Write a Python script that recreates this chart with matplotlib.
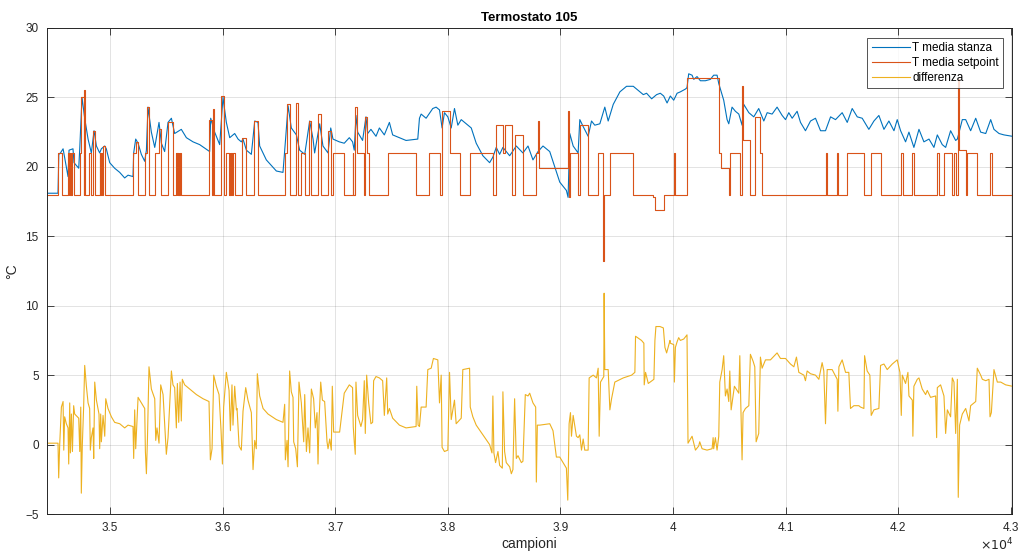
import matplotlib
matplotlib.use("Agg")
import matplotlib.pyplot as plt
from matplotlib.ticker import FuncFormatter

plt.rcParams['font.family'] = ['Liberation Sans', 'DejaVu Sans']

# T media stanza (room temperature)
stanza_x = [34443, 34538, 34545, 34560, 34583, 34627, 34636, 34671, 34680, 34722, 34731, 34751,
            34775, 34805, 34834, 34858, 34879, 34908, 34923, 34953, 34967, 34997, 35041, 35086,
            35130, 35160, 35204, 35210, 35228, 35249, 35278, 35308, 35323, 35337, 35367, 35397,
            35435, 35456, 35485, 35515, 35545, 35574, 35633, 35678, 35737, 35796, 35885, 35894,
            35929, 35974, 36003, 36033, 36063, 36107, 36137, 36166, 36181, 36211, 36255, 36285,
            36314, 36329, 36388, 36477, 36536, 36560, 36581, 36610, 36655, 36684, 36729, 36773,
            36803, 36817, 36862, 36891, 36936, 36960, 36980, 37036, 37080, 37125, 37154, 37169,
            37184, 37199, 37243, 37273, 37288, 37317, 37362, 37392, 37436, 37481, 37510, 37570,
            37629, 37733, 37748, 37763, 37807, 37866, 37896, 37926, 37949, 37970, 38000, 38030,
            38059, 38089, 38119, 38163, 38208, 38252, 38311, 38371, 38400, 38430, 38460, 38489,
            38549, 38608, 38667, 38712, 38756, 38801, 38845, 38905, 38949, 38994, 39053, 39068,
            39083, 39113, 39157, 39172, 39202, 39246, 39276, 39305, 39350, 39394, 39424, 39469,
            39528, 39587, 39647, 39691, 39736, 39765, 39810, 39854, 39887, 39917, 39947, 39976,
            40006, 40036, 40065, 40110, 40124, 40139, 40169, 40184, 40213, 40243, 40287, 40332,
            40361, 40391, 40406, 40421, 40450, 40480, 40495, 40524, 40554, 40584, 40613, 40628,
            40673, 40717, 40761, 40806, 40836, 40880, 40924, 40969, 40999, 41028, 41058, 41102,
            41132, 41176, 41221, 41265, 41310, 41354, 41399, 41443, 41502, 41547, 41591, 41636,
            41680, 41739, 41784, 41828, 41873, 41917, 41962, 41991, 42021, 42065, 42095, 42139,
            42184, 42228, 42273, 42317, 42347, 42391, 42421, 42465, 42510, 42525, 42569, 42599,
            42643, 42688, 42732, 42777, 42821, 42850, 42895, 42939, 43013]
stanza_y = [18.1, 18.1, 20.9, 21.0, 21.3, 19.3, 21.2, 21.3, 20.3, 19.9, 21.3, 25.0,
            23.5, 22.0, 21.0, 22.6, 21.5, 21.0, 21.3, 21.5, 21.3, 20.3, 19.9, 19.6,
            19.2, 19.4, 19.3, 21.0, 22.0, 21.7, 20.9, 20.4, 21.2, 24.3, 22.5, 21.4,
            23.2, 21.7, 21.1, 23.2, 23.5, 22.4, 22.7, 22.1, 21.8, 21.6, 21.1, 23.5,
            22.5, 21.6, 25.0, 23.2, 22.1, 22.4, 22.0, 21.8, 22.0, 21.2, 20.9, 23.3,
            23.2, 21.5, 20.5, 19.7, 19.6, 22.1, 24.4, 22.8, 22.3, 21.2, 20.9, 23.3,
            22.0, 21.0, 23.1, 21.5, 21.0, 22.8, 22.0, 21.8, 21.7, 22.1, 21.8, 21.2,
            23.7, 22.5, 21.9, 23.6, 22.4, 22.7, 22.2, 22.8, 22.3, 23.2, 22.3, 22.1,
            21.9, 22.0, 23.5, 23.8, 23.5, 24.2, 24.3, 24.1, 22.8, 23.9, 23.6, 22.8,
            24.2, 23.0, 23.4, 23.1, 22.8, 21.7, 20.8, 20.3, 20.7, 21.4, 20.9, 21.4,
            20.8, 21.5, 21.0, 21.5, 20.5, 21.1, 21.5, 21.1, 20.0, 18.9, 18.3, 17.8,
            22.4, 21.5, 21.0, 23.4, 22.9, 22.2, 23.3, 23.0, 23.1, 24.3, 23.3, 24.5,
            25.4, 25.8, 25.8, 25.5, 25.2, 25.3, 24.9, 25.2, 25.3, 25.1, 24.6, 25.1,
            24.8, 25.3, 25.4, 25.6, 25.7, 26.7, 26.6, 26.3, 26.5, 26.2, 26.2, 26.3,
            26.6, 26.6, 26.0, 25.6, 24.8, 23.4, 23.1, 24.3, 24.0, 23.8, 23.0, 24.5,
            23.9, 23.6, 24.2, 23.3, 23.9, 23.8, 24.3, 23.7, 23.4, 23.9, 23.5, 24.0,
            23.2, 22.6, 23.3, 23.5, 22.6, 22.6, 23.6, 23.4, 23.9, 23.2, 24.2, 23.6,
            23.5, 22.7, 23.3, 23.7, 22.7, 23.3, 22.6, 23.4, 22.6, 21.8, 22.5, 21.4,
            22.7, 21.8, 22.0, 21.4, 22.3, 21.6, 21.4, 22.6, 21.9, 22.0, 23.4, 23.4,
            22.6, 23.5, 22.5, 22.4, 23.4, 22.7, 22.4, 22.3, 22.2]

# T media setpoint (step changes)
setpoint_x = [34440, 34538, 34577, 34627, 34636, 34640, 34648, 34652, 34657, 34662, 34677, 34731,
              34746, 34766, 34769, 34775, 34814, 34834, 34849, 34870, 34908, 34915, 34918, 34930,
              34935, 34953, 35204, 35234, 35249, 35308, 35332, 35346, 35397, 35435, 35456, 35515,
              35559, 35589, 35593, 35598, 35603, 35610, 35614, 35619, 35633, 35879, 35909, 35915,
              35926, 35989, 36009, 36033, 36057, 36064, 36069, 36078, 36083, 36092, 36107, 36175,
              36211, 36276, 36314, 36551, 36572, 36595, 36655, 36670, 36699, 36729, 36767, 36788,
              36847, 36877, 36936, 36965, 36980, 37080, 37154, 37160, 37178, 37190, 37199, 37258,
              37267, 37279, 37303, 37466, 37718, 37837, 37926, 37949, 38015, 38104, 38193, 38400,
              38430, 38489, 38504, 38573, 38593, 38667, 38786, 38801, 38810, 39068, 39072, 39083,
              39157, 39172, 39246, 39335, 39380, 39385, 39390, 39439, 39647, 39825, 39840, 39917,
              40006, 40021, 40124, 40406, 40430, 40495, 40510, 40599, 40613, 40622, 40687, 40732,
              40776, 40791, 41354, 41369, 41458, 41467, 41541, 41695, 41754, 41843, 42027, 42039,
              42125, 42139, 42341, 42362, 42406, 42480, 42495, 42510, 42533, 42542, 42599, 42613,
              42702, 42815, 42836, 43013]
setpoint_y = [18.0, 21.0, 18.0, 21.0, 18.0, 21.0, 18.0, 21.0, 18.0, 21.0, 18.0, 21.0,
              25.0, 18.0, 25.5, 18.0, 21.0, 18.0, 22.6, 18.0, 21.0, 18.0, 21.0, 18.0,
              21.5, 18.0, 21.0, 21.8, 18.0, 21.0, 24.3, 18.0, 21.0, 22.7, 18.0, 23.2,
              18.0, 21.0, 18.0, 21.0, 18.0, 21.0, 18.0, 21.0, 18.0, 23.4, 18.0, 24.2,
              18.0, 25.1, 18.0, 21.0, 18.0, 21.0, 18.0, 21.0, 18.0, 21.0, 18.0, 22.1,
              18.0, 23.3, 18.0, 21.0, 24.5, 18.0, 24.6, 18.0, 21.0, 18.0, 23.3, 18.0,
              23.8, 18.0, 22.6, 18.0, 21.0, 18.0, 21.0, 18.0, 24.3, 21.0, 21.0, 18.0,
              23.6, 21.0, 18.0, 21.0, 18.0, 21.0, 18.0, 24.0, 21.0, 18.0, 21.0, 18.0,
              23.0, 21.0, 23.0, 18.0, 22.3, 18.0, 21.0, 23.3, 19.9, 24.0, 17.8, 21.0,
              18.0, 23.0, 18.0, 21.0, 13.2, 18.0, 18.0, 21.0, 18.0, 17.8, 16.9, 18.0,
              21.0, 18.0, 26.4, 21.0, 19.9, 18.0, 21.0, 18.0, 25.8, 21.9, 18.0, 23.6,
              21.0, 18.0, 21.0, 18.0, 21.0, 18.0, 21.0, 18.0, 21.0, 18.0, 21.0, 18.0,
              21.0, 18.0, 21.0, 18.0, 21.0, 18.0, 21.0, 18.0, 26.3, 21.2, 18.0, 21.0,
              18.0, 21.0, 18.0, 18.0]

# differenza
diff_x = [34443, 34538, 34544, 34553, 34568, 34583, 34589, 34597, 34612, 34627, 34633, 34642,
          34648, 34657, 34666, 34677, 34686, 34722, 34731, 34740, 34745, 34754, 34766, 34775,
          34790, 34805, 34819, 34825, 34834, 34849, 34855, 34864, 34879, 34902, 34908, 34917,
          34923, 34938, 34953, 34962, 34982, 35012, 35041, 35086, 35130, 35160, 35204, 35210,
          35219, 35228, 35249, 35278, 35308, 35314, 35323, 35332, 35346, 35367, 35397, 35406,
          35417, 35435, 35450, 35471, 35500, 35515, 35545, 35559, 35574, 35589, 35598, 35610,
          35622, 35633, 35642, 35663, 35707, 35767, 35826, 35879, 35891, 35906, 35921, 35944,
          35968, 35986, 35998, 36009, 36033, 36057, 36069, 36083, 36092, 36107, 36122, 36128,
          36146, 36166, 36181, 36205, 36225, 36255, 36270, 36285, 36299, 36308, 36329, 36359,
          36403, 36477, 36536, 36551, 36557, 36572, 36581, 36595, 36610, 36625, 36631, 36649,
          36664, 36678, 36699, 36720, 36729, 36744, 36758, 36773, 36788, 36808, 36823, 36838,
          36847, 36856, 36871, 36886, 36906, 36927, 36936, 36951, 36965, 36974, 36986, 37039,
          37080, 37125, 37154, 37160, 37169, 37178, 37184, 37199, 37228, 37243, 37258, 37267,
          37279, 37297, 37317, 37332, 37341, 37362, 37392, 37421, 37436, 37457, 37466, 37481,
          37510, 37570, 37629, 37718, 37724, 37736, 37748, 37763, 37807, 37822, 37852, 37872,
          37911, 37926, 37941, 37949, 37970, 38000, 38015, 38030, 38059, 38074, 38119, 38133,
          38193, 38199, 38222, 38252, 38311, 38371, 38392, 38400, 38409, 38424, 38445, 38460,
          38484, 38489, 38504, 38519, 38549, 38564, 38578, 38593, 38608, 38623, 38653, 38667,
          38688, 38712, 38727, 38756, 38780, 38786, 38795, 38816, 38905, 38934, 38964, 38994,
          39053, 39065, 39077, 39089, 39098, 39113, 39142, 39157, 39172, 39187, 39202, 39216,
          39246, 39255, 39291, 39320, 39335, 39344, 39356, 39385, 39388, 39394, 39424, 39439,
          39454, 39483, 39558, 39632, 39661, 39667, 39720, 39741, 39744, 39756, 39780, 39830,
          39839, 39848, 39884, 39914, 39928, 39943, 39973, 39976, 40006, 40012, 40021, 40036,
          40050, 40065, 40095, 40124, 40133, 40154, 40169, 40199, 40228, 40237, 40258, 40302,
          40347, 40356, 40361, 40376, 40391, 40406, 40415, 40436, 40450, 40465, 40480, 40495,
          40504, 40516, 40533, 40545, 40584, 40593, 40601, 40613, 40622, 40643, 40673, 40687,
          40711, 40726, 40738, 40761, 40776, 40791, 40806, 40821, 40865, 40924, 40954, 40999,
          41043, 41073, 41096, 41117, 41162, 41176, 41191, 41221, 41265, 41295, 41324, 41339,
          41354, 41369, 41413, 41458, 41464, 41473, 41502, 41532, 41561, 41576, 41606, 41650,
          41665, 41695, 41701, 41724, 41748, 41760, 41784, 41828, 41843, 41873, 41902, 41947,
          41991, 42015, 42027, 42036, 42065, 42086, 42095, 42125, 42130, 42139, 42169, 42184,
          42213, 42243, 42258, 42287, 42332, 42341, 42347, 42376, 42406, 42421, 42436, 42465,
          42480, 42495, 42510, 42525, 42533, 42545, 42569, 42599, 42628, 42643, 42688, 42702,
          42732, 42747, 42777, 42806, 42815, 42827, 42850, 42880, 42910, 42954, 43013]
diff_y = [0.1, 0.1, -2.4, 0.0, 2.7, 3.1, -0.4, 2.0, 1.5, 1.2, -1.4, 3.0,
          -0.6, 2.2, -0.5, 2.8, 2.2, 1.9, -0.5, 2.7, -3.5, 0.0, 2.8, 5.7,
          4.2, 3.0, 2.6, -0.4, 0.5, 1.2, -1.0, 4.5, 3.2, 2.2, -0.3, 2.2,
          0.2, 2.1, 0.6, 3.3, 2.6, 2.0, 1.6, 1.5, 1.2, 1.4, 1.3, -1.0,
          2.5, -0.3, 3.4, 3.0, 2.6, -0.5, -2.1, 0.3, 5.6, 4.0, 3.3, 0.3,
          1.2, 0.1, 4.3, 3.6, -0.7, 0.5, 5.3, 4.3, 4.1, 1.2, 4.4, 1.6,
          4.5, 1.7, 4.7, 4.3, 4.0, 3.6, 3.3, 3.1, -1.1, -0.3, 5.0, 4.2,
          3.6, 1.0, -1.4, 2.7, 5.2, 3.9, 1.0, 4.3, 1.4, 4.2, 2.5, 2.6,
          -0.1, -0.4, 2.4, 4.1, 3.2, 2.3, -1.8, 0.3, -0.3, 5.1, 3.5, 2.6,
          2.2, 1.8, 1.6, 2.9, -1.1, 0.3, -1.6, 5.3, 3.8, 3.4, 0.2, -0.3,
          -1.6, 4.5, 3.0, 0.2, 3.6, -0.5, 1.2, -0.6, 4.0, 3.3, 1.2, 2.3,
          -1.4, 1.7, 4.5, 3.2, 3.1, 0.2, -0.3, 0.4, -0.4, 4.2, 0.9, 0.9,
          3.7, 4.3, 4.1, 1.3, 0.2, -0.7, 4.5, 2.1, 1.3, 1.8, 4.6, 0.8,
          5.0, 3.0, 1.5, 1.6, 4.6, 4.9, 4.8, 4.6, 2.1, 4.8, 2.2, 2.6,
          1.9, 1.4, 1.2, 1.3, 4.2, 1.4, 1.3, 2.7, 2.7, 5.4, 5.5, 6.2,
          6.1, 3.0, 5.0, -0.2, -0.5, -0.4, 5.2, 1.8, 3.2, 1.5, 1.9, 5.4,
          5.5, 2.7, 2.0, 1.4, 0.7, 0.0, -0.6, 3.5, -0.6, -1.3, -0.5, -1.5,
          -1.7, 3.8, -0.5, -1.3, -1.6, -2.1, -1.8, 3.3, -1.0, -0.8, -1.3, -1.2,
          3.6, 3.5, 3.7, 3.0, 2.7, -2.7, 1.4, 1.4, 1.5, 1.0, -0.9, -0.9,
          -1.7, -4.0, 1.5, 2.3, 0.6, 2.1, 0.6, 0.5, 0.7, -0.4, 0.4, -0.4,
          -0.4, 4.8, 5.0, 4.8, 5.5, 0.6, 4.5, 4.9, 10.9, 5.4, 5.4, 2.5,
          3.3, 4.5, 4.8, 5.0, 5.2, 7.8, 7.5, 7.3, 4.3, 5.2, 4.4, 4.7,
          7.5, 8.5, 8.5, 8.4, 7.0, 6.6, 7.5, 7.3, 7.2, 4.5, 7.0, 7.4,
          7.7, 7.5, 7.6, 7.9, 0.1, 0.4, 0.6, -0.4, -0.1, 0.2, -0.3, -0.4,
          -0.3, 0.5, -0.3, 0.5, -0.4, 0.6, 4.5, 5.4, 6.4, 3.5, 4.0, 3.1,
          5.3, 2.5, 3.5, 4.2, 3.7, 6.4, 3.2, -1.1, 2.3, 2.6, 2.8, 6.5,
          6.0, 5.6, 0.2, 0.8, 6.3, 5.5, 5.8, 6.1, 6.1, 6.6, 6.2, 6.2,
          5.8, 5.6, 6.3, 5.2, 5.0, 4.6, 5.3, 5.1, 5.0, 4.7, 5.9, 5.3,
          1.5, 5.4, 5.4, 4.7, 2.4, 5.6, 6.1, 5.2, 5.2, 2.6, 2.8, 2.8,
          2.7, 2.6, 6.4, 5.3, 5.0, 2.1, 2.5, 2.6, 5.7, 5.8, 5.4, 5.8,
          6.1, 5.2, 2.1, 5.0, 4.4, 5.2, 3.5, 3.2, 0.6, 4.2, 4.7, 4.8,
          4.0, 3.6, 3.9, 3.4, 3.5, 0.5, 4.1, 4.3, 3.5, 0.8, 2.5, 2.0,
          4.8, 4.5, 0.8, 4.7, -3.8, 1.4, 2.2, 2.6, 1.7, 2.8, 3.1, 5.5,
          5.0, 4.7, 4.6, 4.7, 2.0, 2.3, 5.4, 4.5, 4.5, 4.3, 4.2]

xticks = [35000, 36000, 37000, 38000, 39000, 40000, 41000, 42000, 43000]
yticks = [-5, 0, 5, 10, 15, 20, 25, 30]

fig = plt.figure(figsize=(10.19, 5.54), dpi=100)
ax = fig.add_axes([0.0461, 0.0722, 0.947, 0.8773])

ax.plot(stanza_x, stanza_y, color='#0072BD', lw=0.8, label='T media stanza')
ax.plot(setpoint_x, setpoint_y, color='#D95319', lw=0.8, drawstyle='steps-post', label='T media setpoint')
ax.plot(diff_x, diff_y, color='#EDB120', lw=0.8, label='differenza')

ax.set_xlim(34440, 43010)
ax.set_ylim(-5, 30)
ax.set_xticks(xticks)
ax.set_yticks(yticks)
ax.xaxis.set_major_formatter(FuncFormatter(lambda v, p: '%g' % (v / 1e4)))
ax.grid(True, color='#262626', alpha=0.15, lw=0.6)
ax.tick_params(direction='in', length=5, width=0.6, colors='#262626', labelsize=8.5,
               top=True, right=True, pad=6)
for s in ax.spines.values():
    s.set_color('#262626')
    s.set_linewidth(0.7)

ax.set_title('Termostato 105', fontsize=9.5, fontweight='bold', pad=5)
ax.set_xlabel('campioni', fontsize=10, color='#262626', labelpad=2)
ax.set_ylabel('°C', fontsize=10, color='#262626', labelpad=4)
fig.text(0.995, 0.002, r'$\times10^4$', ha='right', va='bottom', fontsize=9, color='#262626')

leg = ax.legend(loc='upper right', bbox_to_anchor=(0.9907, 0.9794), fontsize=8.5,
                frameon=True, fancybox=False, borderaxespad=0.0, handlelength=3.3,
                handletextpad=0.15, labelspacing=0.25, borderpad=0.35)
leg.get_frame().set_edgecolor('#262626')
leg.get_frame().set_linewidth(0.7)

fig.savefig('out.png', dpi=100)
